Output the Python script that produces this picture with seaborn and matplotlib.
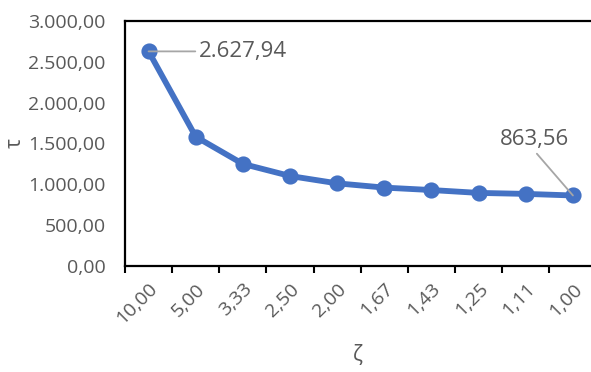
import matplotlib
matplotlib.use("Agg")
import matplotlib.pyplot as plt
import seaborn as sns
import pandas as pd
import numpy as np

# values along the horizontal axis (shown as text categories)
zeta_labels = ["10,00", "5,00", "3,33", "2,50", "2,00", "1,67", "1,43", "1,25", "1,11", "1,00"]
# tau values per category
tau_values = [2627.94, 1583.0, 1250.0, 1102.0, 1012.0, 960.0, 930.0, 895.0, 883.0, 863.56]
y_ticks = [0, 500, 1000, 1500, 2000, 2500, 3000]

def fmt_de(v):
    s = f"{v:,.2f}"
    return s.replace(",", "X").replace(".", ",").replace("X", ".")

sns.set_theme(style="white")
plt.rcParams["font.family"] = ["Open Sans", "DejaVu Sans"]

df = pd.DataFrame({"zeta": zeta_labels, "tau": tau_values})

W, H = 591, 372
fig = plt.figure(figsize=(W / 100, H / 100), dpi=100)
left, right, top, bottom = 125, 591, 21, 266
ax = fig.add_axes([left / W, 1 - bottom / H, (right - left) / W, (bottom - top) / H])

line_color = "#4472C4"
text_color = "#595959"

sns.pointplot(data=df, x="zeta", y="tau", order=zeta_labels, color=line_color,
              linewidth=4.2, markersize=8.5, ax=ax)

cat_w = 47.15
ax.set_xlim(-0.5, -0.5 + (right - left) / cat_w)
ax.set_ylim(0, 3000)

ax.set_yticks(y_ticks)
ax.set_yticklabels([fmt_de(v) for v in y_ticks], color=text_color, fontsize=14)
ax.tick_params(axis="y", length=0, pad=14)

n = len(zeta_labels)
ax.set_xticks(np.arange(n))
ax.set_xticklabels(zeta_labels, rotation=45, ha="right", rotation_mode="anchor",
                   color=text_color, fontsize=14)
ax.tick_params(axis="x", which="major", length=0, pad=10)
ax.set_xticks(np.arange(n) - 0.5, minor=True)
ax.tick_params(axis="x", which="minor", length=5, width=1.5, color="black", direction="out", bottom=True)

for side in ["left", "bottom", "top"]:
    ax.spines[side].set_visible(True)
    ax.spines[side].set_color("black")
    ax.spines[side].set_linewidth(1.6)
ax.spines["right"].set_visible(False)

ax.set_xlabel("ζ", color=text_color, fontsize=15, labelpad=12)
ax.set_ylabel("τ", color=text_color, fontsize=15, labelpad=2)
ax.grid(False)

# data labels for first and last points
ax.annotate(fmt_de(tau_values[0]), xy=(0, tau_values[0]), xytext=(36, 0),
            textcoords="offset points", ha="left", va="center",
            fontsize=16, color=text_color,
            arrowprops=dict(arrowstyle="-", color="#A6A6A6", lw=1.3,
                            shrinkA=0, shrinkB=0, relpos=(0, 0.5)))
ax.annotate(fmt_de(tau_values[-1]), xy=(n - 1, tau_values[-1]), xytext=(-28, 40),
            textcoords="offset points", ha="center", va="center",
            fontsize=16, color=text_color,
            arrowprops=dict(arrowstyle="-", color="#A6A6A6", lw=1.3,
                            shrinkA=0, shrinkB=0, relpos=(0.5, 0)))

fig.savefig("out.png", dpi=100)
